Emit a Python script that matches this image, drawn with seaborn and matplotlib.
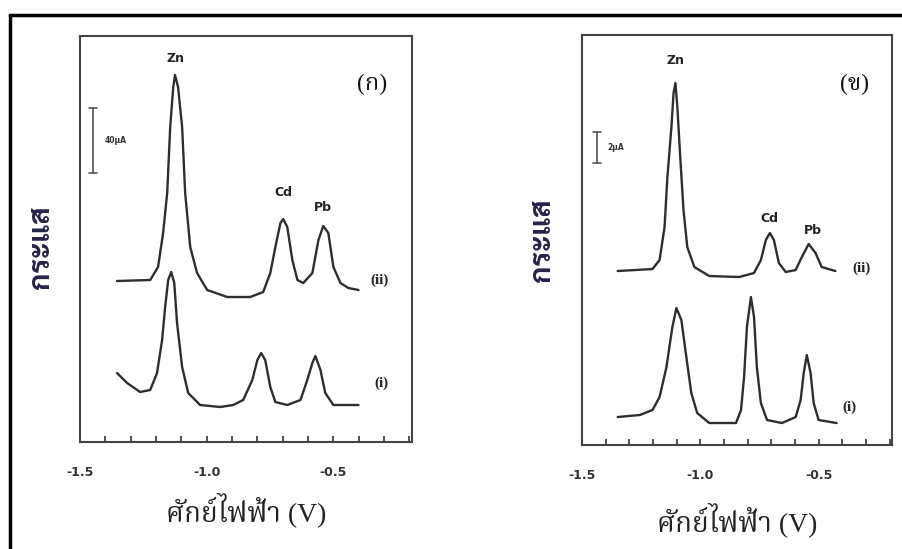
import numpy as np
import pandas as pd
import matplotlib
matplotlib.use("Agg")
import matplotlib.pyplot as plt
import seaborn as sns
from matplotlib.lines import Line2D

# panel (ก): curves (ii) and (i), potential in V, current in arbitrary units
a_ii_v = [-1.354, -1.223, -1.192, -1.172, -1.156, -1.144, -1.132, -1.125, -1.113, -1.097,
          -1.085, -1.065, -1.038, -0.998, -0.919, -0.828, -0.777, -0.749, -0.729, -0.709,
          -0.698, -0.682, -0.662, -0.642, -0.619, -0.583, -0.559, -0.540, -0.520, -0.500,
          -0.472, -0.441, -0.401]
a_ii_i = [161, 162, 175, 209, 249, 315, 355, 367, 355, 315,
          249, 195, 169, 152, 145, 145, 150, 169, 195, 219,
          223, 215, 182, 162, 159, 169, 202, 216, 209, 175,
          159, 154, 152]
a_i_v = [-1.354, -1.314, -1.263, -1.223, -1.196, -1.176, -1.164, -1.152, -1.140, -1.128,
         -1.117, -1.097, -1.073, -1.026, -0.947, -0.895, -0.856, -0.820, -0.800, -0.785,
         -0.769, -0.749, -0.729, -0.682, -0.630, -0.603, -0.583, -0.571, -0.551, -0.532,
         -0.500, -0.401]
a_i_i = [69, 59, 50, 52, 69, 102, 135, 162, 170, 159,
         119, 75, 49, 37, 35, 37, 42, 62, 82, 89,
         82, 55, 40, 37, 42, 62, 79, 86, 72, 49,
         37, 37]

# panel (ข)
b_ii_v = [-1.349, -1.202, -1.172, -1.151, -1.139, -1.122, -1.113, -1.105, -1.097, -1.084,
          -1.071, -1.055, -1.025, -0.962, -0.836, -0.773, -0.744, -0.723, -0.706, -0.689,
          -0.668, -0.639, -0.597, -0.571, -0.542, -0.513, -0.487, -0.429]
b_ii_i = [174, 176, 185, 218, 268, 318, 352, 362, 338, 285,
          235, 198, 178, 169, 168, 172, 185, 205, 212, 205,
          182, 173, 175, 188, 201, 192, 178, 174]
b_i_v = [-1.349, -1.256, -1.202, -1.172, -1.143, -1.118, -1.101, -1.080, -1.059, -1.038,
         -1.013, -0.962, -0.849, -0.828, -0.815, -0.803, -0.786, -0.773, -0.761, -0.744,
         -0.718, -0.655, -0.597, -0.576, -0.563, -0.550, -0.534, -0.521, -0.500, -0.424]
b_i_i = [28, 30, 35, 48, 78, 118, 137, 125, 88, 52,
         32, 22, 22, 35, 68, 118, 148, 128, 78, 42,
         25, 22, 28, 45, 72, 90, 72, 42, 25, 22]

tick_vals = [-1.5, -1.0, -0.5]
tick_labels = ["-1.5", "-1.0", "-0.5"]

# peak labels: (text, x, y) in data units, one list per panel
a_peaks = [("Zn", -1.125, 384), ("Cd", -0.698, 250), ("Pb", -0.540, 235)]
b_peaks = [("Zn", -1.105, 385), ("Cd", -0.706, 227), ("Pb", -0.525, 215)]
a_curve_tags = [("(ii)", -0.32, 162), ("(i)", -0.31, 59)]
b_curve_tags = [("(ii)", -0.32, 177), ("(i)", -0.37, 38)]
panel_tags = ["(ก)", "(ข)"]
scale_labels = ["40μA", "2μA"]

sns.set_theme(style="white")
thai_serif = ["Liberation Serif", "Noto Serif Thai"]
thai_sans = ["DejaVu Sans", "Noto Sans Thai"]
plt.rcParams["font.family"] = thai_sans

fig = plt.figure(figsize=(9.02, 5.49), dpi=100)
ax1 = fig.add_axes([0.0887, 0.1949, 0.368, 0.7395])
ax2 = fig.add_axes([0.6452, 0.1894, 0.3437, 0.7468])

line_col = "#2e2e2e"
setup = [
    (ax1, [(a_ii_v, a_ii_i), (a_i_v, a_i_i)], a_peaks, a_curve_tags, 406, 10),
    (ax2, [(b_ii_v, b_ii_i), (b_i_v, b_i_i)], b_peaks, b_curve_tags, 410, 15),
]
for k, (ax, curves, peaks, tags, ytop, lpad) in enumerate(setup):
    for xv, yv in curves:
        df = pd.DataFrame({"v": xv, "i": yv})
        sns.lineplot(data=df, x="v", y="i", ax=ax, color=line_col,
                     linewidth=1.7, estimator=None, sort=False)
    ax.set_xlim(-1.5, -0.19)
    ax.set_ylim(0, ytop)
    ax.set_xticks(np.arange(-1.5, -0.15, 0.1), minor=True)
    ax.set_xticks(tick_vals)
    ax.set_xticklabels(tick_labels, fontsize=9, fontweight="bold", color="#333333")
    ax.tick_params(axis="x", which="both", direction="in", length=4, width=1.2,
                   color="#333333", bottom=True, pad=17)
    ax.set_yticks([])
    for sp in ax.spines.values():
        sp.set_color("#444444")
        sp.set_linewidth(1.5)
    ax.set_xlabel("ศักย์ไฟฟ้า (V)", fontsize=20, color="#222222", family=thai_serif,
                  labelpad=lpad)
    ax.set_ylabel("กระแส", fontsize=21, color="#24244a",
                  family=["Sarabun", "Noto Serif Thai"], fontweight="bold")
    for txt, x, y in peaks:
        ax.text(x, y, txt, fontsize=9, fontweight="bold", color="#222222",
                ha="center", va="center")
    for txt, x, y in tags:
        ax.text(x, y, txt, fontsize=11, fontweight="bold", color="#222222",
                ha="center", va="center", family=thai_serif)
    ax.text(0.88, 0.88, panel_tags[k], transform=ax.transAxes, fontsize=17,
            color="#111111", ha="center", va="center", family=thai_serif)

# scale bars (axes fraction)
for ax, x0, y0, y1, lab in [(ax1, 0.039, 0.663, 0.823, scale_labels[0]),
                            (ax2, 0.048, 0.688, 0.763, scale_labels[1])]:
    ax.plot([x0, x0], [y0, y1], transform=ax.transAxes, color="#555555", lw=1.2)
    for yy in (y0, y1):
        ax.plot([x0 - 0.012, x0 + 0.012], [yy, yy], transform=ax.transAxes,
                color="#555555", lw=1.2)
    ax.text(x0 + 0.035, (y0 + y1) / 2, lab, transform=ax.transAxes, fontsize=5.5,
            fontweight="bold", color="#333333", va="center")

ax1.yaxis.set_label_coords(-0.072, 0.48)
ax2.yaxis.set_label_coords(-0.082, 0.50)

# outer frame (top and left edges)
fig.add_artist(Line2D([0.011, 1.0], [0.9727, 0.9727], color="black", lw=2.5))
fig.add_artist(Line2D([0.011, 0.011], [0.0, 0.9727], color="black", lw=2.5))

fig.savefig("out.png", dpi=100)
